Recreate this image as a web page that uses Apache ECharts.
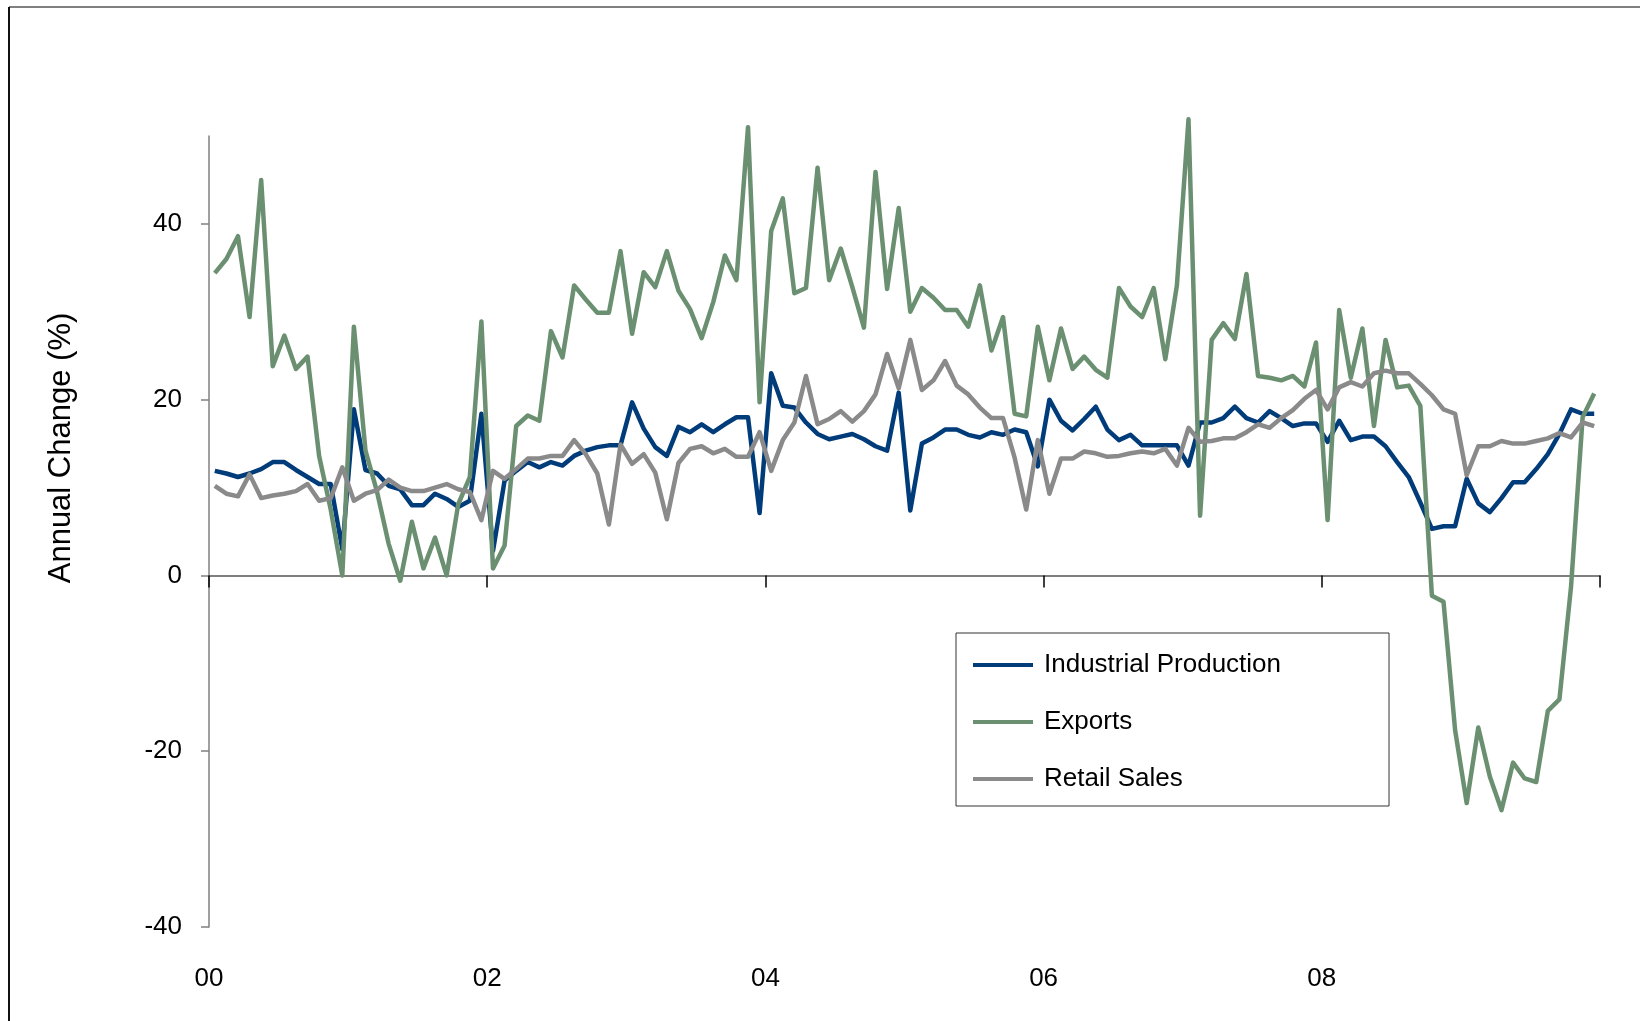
<!DOCTYPE html>
<html>
<head>
<meta charset="utf-8">
<script src="https://cdn.jsdelivr.net/npm/echarts@6/dist/echarts.min.js"></script>
<style>
  html, body { margin: 0; padding: 0; background: #fff; }
  #chart { width: 1640px; height: 1021px; }
</style>
</head>
<body>
<div id="chart"></div>
<script>
// Monthly observations, Jan 2000 – Dec 2009 (annual % change)
const years = ['2000','2001','2002','2003','2004','2005','2006','2007','2008','2009'];
const xTickLabels = ['00', '02', '04', '06', '08', ''];
const yTickValues = [-40, -20, 0, 20, 40];

const industrialProduction = [
  11.9, 11.6, 11.2, 11.6, 12.1, 12.9, 12.9, 12.0, 11.2, 10.4, 10.4, 3.0,
  18.9, 12.0, 11.6, 10.2, 9.8, 8.0, 8.0, 9.3, 8.7, 7.8, 8.5, 18.4,
  2.8, 10.8, 11.9, 12.9, 12.3, 12.9, 12.5, 13.6, 14.2, 14.6, 14.8, 14.8,
  19.7, 16.7, 14.6, 13.6, 16.9, 16.3, 17.2, 16.3, 17.2, 18.0, 18.0, 7.1,
  23.0, 19.3, 19.1, 17.4, 16.1, 15.5, 15.8, 16.1, 15.5, 14.7, 14.2, 20.8,
  7.4, 15.0, 15.7, 16.6, 16.6, 16.0, 15.7, 16.3, 16.0, 16.6, 16.3, 12.4,
  20.0, 17.6, 16.5, 17.8, 19.2, 16.6, 15.4, 16.0, 14.8, 14.8, 14.8, 14.8,
  12.5, 17.4, 17.4, 17.9, 19.2, 17.9, 17.4, 18.7, 17.9, 17.0, 17.3, 17.3,
  15.2, 17.6, 15.4, 15.8, 15.8, 14.7, 12.9, 11.2, 8.3, 5.3, 5.6, 5.6,
  11.0, 8.2, 7.2, 8.8, 10.6, 10.6, 12.1, 13.8, 16.1, 18.9, 18.4, 18.4
];

const exportsGrowth = [
  34.4, 36.0, 38.6, 29.4, 45.0, 23.8, 27.3, 23.5, 24.9, 13.6, 7.5, 0.0,
  28.3, 14.2, 9.5, 3.6, -0.6, 6.1, 0.8, 4.3, 0.0, 8.1, 11.2, 28.9,
  0.8, 3.4, 17.0, 18.2, 17.6, 27.8, 24.8, 33.0, 31.4, 29.9, 29.9, 36.9,
  27.5, 34.5, 32.8, 36.9, 32.4, 30.3, 27.0, 31.1, 36.4, 33.6, 51.0, 19.7,
  39.2, 42.9, 32.1, 32.7, 46.4, 33.6, 37.2, 32.8, 28.2, 45.9, 32.6, 41.8,
  30.0, 32.7, 31.6, 30.2, 30.2, 28.3, 33.0, 25.6, 29.4, 18.4, 18.1, 28.3,
  22.2, 28.1, 23.5, 24.9, 23.4, 22.5, 32.7, 30.6, 29.4, 32.7, 24.6, 33.0,
  51.9, 6.8, 26.8, 28.7, 26.9, 34.3, 22.7, 22.5, 22.2, 22.7, 21.5, 26.5,
  6.3, 30.2, 22.5, 28.1, 17.0, 26.8, 21.4, 21.6, 19.3, -2.3, -3.0, -17.6,
  -25.9, -17.3, -22.9, -26.7, -21.3, -23.1, -23.5, -15.4, -14.1, -1.3, 18.0, 20.7
];

const retailSales = [
  10.2, 9.3, 9.0, 11.5, 8.8, 9.1, 9.3, 9.6, 10.4, 8.5, 8.8, 12.3,
  8.5, 9.3, 9.7, 10.9, 10.0, 9.6, 9.6, 10.0, 10.4, 9.8, 9.5, 6.3,
  11.9, 11.0, 12.1, 13.3, 13.3, 13.6, 13.6, 15.4, 13.8, 11.6, 5.8, 14.9,
  12.7, 13.8, 11.7, 6.4, 12.8, 14.4, 14.7, 13.9, 14.4, 13.5, 13.5, 16.3,
  11.9, 15.4, 17.4, 22.7, 17.2, 17.8, 18.7, 17.5, 18.7, 20.6, 25.2, 21.3,
  26.8, 21.1, 22.2, 24.4, 21.6, 20.6, 19.1, 17.9, 17.9, 13.4, 7.5, 15.4,
  9.3, 13.3, 13.3, 14.1, 13.9, 13.5, 13.6, 13.9, 14.1, 13.9, 14.4, 12.5,
  16.8, 15.2, 15.3, 15.6, 15.6, 16.3, 17.2, 16.8, 17.9, 18.8, 20.1, 21.1,
  18.9, 21.4, 22.0, 21.5, 23.0, 23.3, 23.0, 23.0, 21.8, 20.5, 18.9, 18.4,
  11.4, 14.7, 14.7, 15.3, 15.0, 15.0, 15.3, 15.6, 16.2, 15.7, 17.4, 17.0
];

const seriesNames = ['Industrial Production', 'Exports', 'Retail Sales'];
const seriesColors = ['#003B7A', '#6B9071', '#8A8A8A'];

// month categories (one per observation)
const months = [];
years.forEach(y => { for (let m = 1; m <= 12; m++) months.push(y + '-' + (m < 10 ? '0' + m : m)); });

const FONT = '"Liberation Sans", Arial, Helvetica, sans-serif';
const toPairs = arr => arr.map((v, i) => [i + 0.5, v]);

const chart = echarts.init(document.getElementById('chart'), null, { renderer: 'canvas' });

const option = {
  animation: false,
  backgroundColor: '#ffffff',
  grid: { left: 209, right: 40, top: 136, bottom: 94, containLabel: false },
  xAxis: [
    {
      type: 'value', min: 0, max: months.length, interval: 24,
      axisLine: { onZero: true, lineStyle: { color: '#555555', width: 1.5 } },
      axisTick: { show: true, length: 12, lineStyle: { color: '#000000', width: 1.5 } },
      axisLabel: { show: false },
      splitLine: { show: false }
    },
    {
      type: 'value', min: 0, max: months.length, interval: 24, position: 'bottom',
      axisLine: { show: false, onZero: false },
      axisTick: { show: false },
      splitLine: { show: false },
      axisLabel: {
        show: true, margin: 39, fontSize: 26, fontFamily: FONT, color: '#000000',
        formatter: v => xTickLabels[Math.round(v / 24)] || ''
      }
    }
  ],
  yAxis: {
    type: 'value', min: -40, max: 50, interval: 20,
    axisLine: { show: true, onZero: false, lineStyle: { color: '#808080', width: 1.5 } },
    axisTick: { show: true, length: 8, customValues: yTickValues, lineStyle: { color: '#808080', width: 1.5 } },
    axisLabel: {
      margin: 27, fontSize: 26, fontFamily: FONT, color: '#000000',
      customValues: yTickValues,
      formatter: v => (yTickValues.indexOf(v) >= 0 ? String(v) : '')
    },
    splitLine: { show: false }
  },
  legend: {
    orient: 'vertical', left: 956, top: 633,
    itemWidth: 60, itemHeight: 4, itemGap: 27, icon: 'rect',
    padding: [17, 108, 12, 17],
    borderColor: '#333333', borderWidth: 1, backgroundColor: '#ffffff',
    textStyle: { fontSize: 26, fontFamily: FONT, color: '#000000', lineHeight: 30, padding: [0, 0, 0, 6] },
    data: seriesNames
  },
  graphic: [
    { type: 'line', shape: { x1: 9, y1: 7, x2: 1640, y2: 7 }, style: { stroke: '#808080', lineWidth: 2 } },
    { type: 'line', shape: { x1: 9, y1: 7, x2: 9, y2: 1021 }, style: { stroke: '#111111', lineWidth: 2 } },
    {
      type: 'text', x: 61, y: 448, rotation: Math.PI / 2,
      style: { text: 'Annual Change (%)', font: '31px ' + FONT, fill: '#000000', textAlign: 'center', textVerticalAlign: 'middle' }
    }
  ],
  series: [
    { name: seriesNames[0], type: 'line', xAxisIndex: 0, data: toPairs(industrialProduction), showSymbol: false, symbol: 'none', clip: false,
      lineStyle: { color: seriesColors[0], width: 4.5, join: 'round' }, itemStyle: { color: seriesColors[0] }, z: 3 },
    { name: seriesNames[1], type: 'line', xAxisIndex: 0, data: toPairs(exportsGrowth), showSymbol: false, symbol: 'none', clip: false,
      lineStyle: { color: seriesColors[1], width: 4.5, join: 'round' }, itemStyle: { color: seriesColors[1] }, z: 4 },
    { name: seriesNames[2], type: 'line', xAxisIndex: 0, data: toPairs(retailSales), showSymbol: false, symbol: 'none', clip: false,
      lineStyle: { color: seriesColors[2], width: 4.5, join: 'round' }, itemStyle: { color: seriesColors[2] }, z: 5 }
  ]
};
chart.setOption(option);
</script>
</body>
</html>
